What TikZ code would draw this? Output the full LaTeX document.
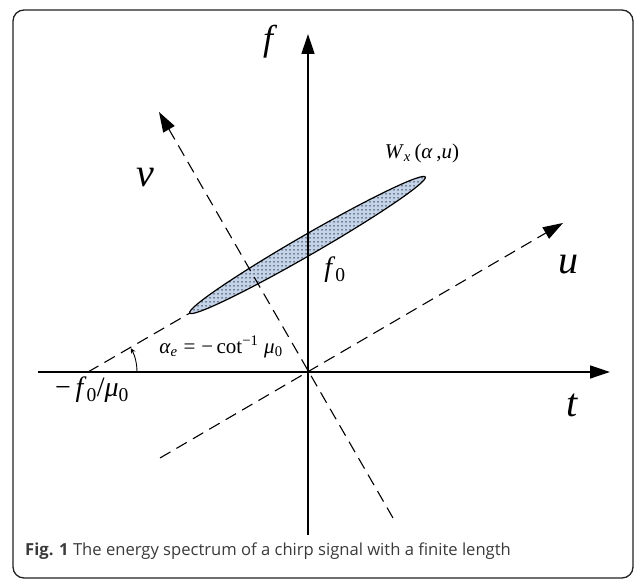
\documentclass[tikz,border=0pt]{standalone}
\usepackage{fontspec}
\usetikzlibrary{arrows.meta,patterns}
\newfontfamily\tms{Liberation Serif}
\newfontfamily\capfont{Open Sans}
\definecolor{ellfill}{HTML}{C3D3EA}
\definecolor{framecol}{HTML}{222222}
\definecolor{captxt}{HTML}{3A3A3A}
\pgfdeclarepatternformonly{bigdots}{\pgfqpoint{-1pt}{-1pt}}{\pgfqpoint{5pt}{5pt}}{\pgfqpoint{4pt}{4pt}}{%
  \pgfpathcircle{\pgfqpoint{2pt}{2pt}}{0.75pt}\pgfusepath{fill}}
\tikzset{
  axis/.style={line width=1.3pt,-{Triangle[length=20pt,width=13pt]}},
  dashaxis/.style={line width=1.1pt,dash pattern=on 12pt off 7pt,-{Triangle[length=20pt,width=13pt]}},
  dashline/.style={line width=1.1pt,dash pattern=on 12pt off 7pt},
  lbl/.style={inner sep=0pt,font=\tms},
}
\begin{document}
\begin{tikzpicture}[x=1pt,y=1pt]
\useasboundingbox (0,0) rectangle (635,580);
% frame
\draw[framecol,line width=1.3pt,rounded corners=11pt] (13,2) rectangle (633,570);
% ellipse
\fill[ellfill] (307.5,335) ellipse[x radius=136,y radius=10,rotate=30];
\fill[pattern=bigdots,pattern color=black!85] (307.5,335) ellipse[x radius=136,y radius=10,rotate=30];
\draw[line width=1.2pt] (307.5,335) ellipse[x radius=136,y radius=10,rotate=30];
% coordinates
\coordinate (O) at (308,208);
\coordinate (tS) at (38,208);
\coordinate (tE) at (610,208);
\coordinate (fS) at (308,45);
\coordinate (fE) at (308,546);
\coordinate (uS) at (160,122);
\coordinate (uE) at (563,357);
\coordinate (vS) at (393,62);
\coordinate (vE) at (159,468);
\coordinate (P) at (88,208);
\coordinate (E1) at (190,267);
% axes
\draw[axis] (tS) -- (tE);
\draw[axis] (fS) -- (fE);
\draw[dashaxis] (uS) -- (uE);
\draw[dashaxis] (vS) -- (vE);
\draw[dashline] (P) -- (E1);
% angle arc
\draw[line width=0.9pt,-{Stealth[length=5pt,width=5pt]}] (137,208) arc[start angle=0,end angle=29,radius=49];
% labels
\node[lbl,font=\tms\itshape\fontsize{36}{36}\selectfont] (lf) at (268,538) {f};
\node[lbl,font=\tms\itshape\fontsize{40}{40}\selectfont] (lv) at (145,402) {v};
\node[lbl,font=\tms\itshape\fontsize{40}{40}\selectfont] (lu) at (568,315) {u};
\node[lbl,font=\tms\itshape\fontsize{40}{40}\selectfont] (lt) at (572,175) {t};
\node[lbl,font=\tms\fontsize{28}{28}\selectfont] (lf0) at (335,310) {\textit{f}\textsubscript{0}};
\node[lbl,font=\tms\fontsize{21}{21}\selectfont] (lw) at (422,427) {\textit{W}\textsubscript{\textit{x}}\,(\textit{α}\,,\textit{u})};
\node[lbl,font=\tms\fontsize{21}{21}\selectfont] (la) at (221,233) {\textit{α}\textsubscript{\textit{e}}\;=\;−\,cot\textsuperscript{−1}\;\textit{μ}\textsubscript{0}};
\node[lbl,font=\tms\fontsize{28}{28}\selectfont] (lp) at (92,190) {−\,\textit{f}\textsubscript{0}/\textit{μ}\textsubscript{0}};
% caption
\node[anchor=base west,inner sep=0pt,font=\capfont\fontsize{16.6}{16.6}\selectfont,text=captxt] (cap) at (25,24) {\textbf{Fig. 1} The energy spectrum of a chirp signal with a finite length};
\end{tikzpicture}
\end{document}
